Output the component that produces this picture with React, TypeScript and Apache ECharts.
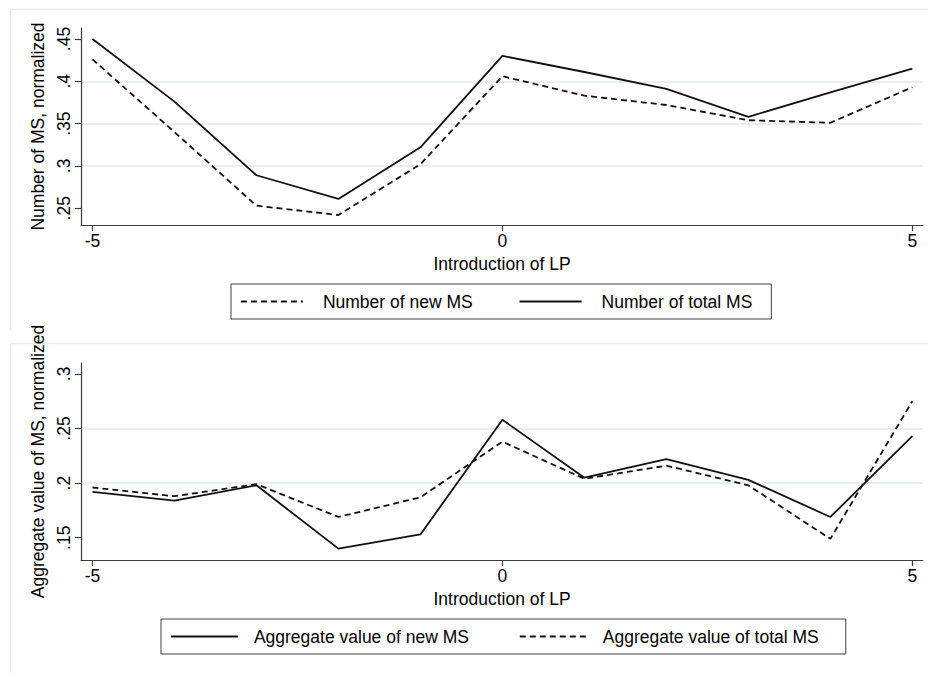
import React, { useEffect, useRef } from "react";
import * as echarts from "echarts";

const periods = [-5, -4, -3, -2, -1, 0, 1, 2, 3, 4, 5];
const numNewMS = [0.426, 0.34, 0.253, 0.242, 0.302, 0.406, 0.383, 0.372, 0.354, 0.351, 0.393];
const numTotalMS = [0.45, 0.376, 0.289, 0.261, 0.322, 0.43, 0.411, 0.391, 0.358, 0.387, 0.415];
const aggNewMS = [0.192, 0.184, 0.198, 0.14, 0.153, 0.258, 0.205, 0.222, 0.203, 0.169, 0.243];
const aggTotalMS = [0.196, 0.188, 0.199, 0.169, 0.187, 0.238, 0.204, 0.216, 0.198, 0.149, 0.275];
const xTicks = [-5, 0, 5];
const yTicksTop = [0.25, 0.3, 0.35, 0.4, 0.45];
const yTicksBottom = [0.15, 0.2, 0.25, 0.3];
const xTitle = "Introduction of LP";
const yTitleTop = "Number of MS, normalized";
const yTitleBottom = "Aggregate value of MS, normalized";
const labelsTop = ["Number of new MS", "Number of total MS"];
const labelsBottom = ["Aggregate value of new MS", "Aggregate value of total MS"];

const FONT = "'Liberation Sans', Arial, sans-serif";
const INK = "#111";
const AXIS = "#3c3c3c";
const GRID = "#e8eff2";
const FS = 17.5;

const fmtY = (v: number) => String(+v.toFixed(2)).replace(/^0/, "").replace(/^-0/, "-");

function xAxisCfg(gridIndex: number) {
  return {
    type: "value",
    gridIndex,
    min: -5.14,
    max: 5.13,
    name: xTitle,
    nameLocation: "middle",
    nameGap: 30,
    nameTextStyle: { color: "#000", fontFamily: FONT, fontSize: FS },
    axisLine: { show: true, onZero: false, lineStyle: { color: AXIS, width: 1.2 } },
    axisTick: { show: true, customValues: xTicks, length: 6, lineStyle: { color: AXIS, width: 1.2 } },
    axisLabel: { customValues: xTicks, color: "#000", fontFamily: FONT, fontSize: FS, margin: 7, formatter: (v: number) => String(v) },
    splitLine: { show: false },
  };
}

function yAxisCfg(gridIndex: number, min: number, max: number, ticks: number[], name: string) {
  return {
    type: "value",
    gridIndex,
    min,
    max,
    minInterval: 0.05,
    maxInterval: 0.05,
    splitNumber: 4,
    name,
    nameLocation: "middle",
    nameRotate: 90,
    nameGap: 31,
    nameTextStyle: { color: "#000", fontFamily: FONT, fontSize: FS },
    axisLine: { show: true, onZero: false, lineStyle: { color: AXIS, width: 1.2 } },
    axisTick: { show: true, customValues: ticks, length: 6, lineStyle: { color: AXIS, width: 1.2 } },
    axisLabel: { customValues: ticks, rotate: 90, color: "#000", fontFamily: FONT, fontSize: FS, margin: 8, formatter: fmtY },
    splitLine: { show: true, showMinLine: false, showMaxLine: false, lineStyle: { color: GRID, width: 2 } },
  };
}

function lineSeries(name: string, values: number[], idx: number, dashed: boolean) {
  return {
    type: "line",
    name,
    xAxisIndex: idx,
    yAxisIndex: idx,
    data: periods.map((p, i) => [p, values[i]]),
    symbol: "none",
    showSymbol: false,
    lineStyle: { color: INK, width: 1.8, type: dashed ? [6, 4] : "solid" },
    itemStyle: { color: INK },
    z: 3,
  };
}

function legendCfg(data: string[], left: number, top: number, padding: number[], itemWidth: number, itemGap: number, textPad: number) {
  return {
    data,
    left,
    top,
    orient: "horizontal",
    padding,
    itemWidth,
    itemHeight: 14,
    itemGap,
    borderColor: "#404040",
    borderWidth: 1,
    borderRadius: 0,
    backgroundColor: "#fff",
    selectedMode: false,
    itemStyle: { color: "rgba(0,0,0,0)", borderColor: "rgba(0,0,0,0)", borderWidth: 0 },
    lineStyle: { color: INK, width: 1.8 },
    textStyle: { color: "#000", fontFamily: FONT, fontSize: FS, lineHeight: 21, padding: [0, 0, 0, textPad] },
  };
}

export default function App() {
  const ref = useRef<HTMLDivElement>(null);
  useEffect(() => {
    if (!ref.current) return;
    const chart = echarts.init(ref.current, null, { renderer: "svg" });
    chart.setOption({
      animation: false,
      backgroundColor: "#fff",
      textStyle: { fontFamily: FONT },
      grid: [
        { left: 81, top: 28, width: 842, height: 197 },
        { left: 81, top: 363, width: 842, height: 197 },
      ],
      xAxis: [xAxisCfg(0), xAxisCfg(1)],
      yAxis: [
        yAxisCfg(0, 0.2302, 0.463, yTicksTop, yTitleTop),
        yAxisCfg(1, 0.1296, 0.31, yTicksBottom, yTitleBottom),
      ],
      legend: [
        legendCfg(labelsTop, 231, 284, [7, 19, 7, 9], 62, 46, 15),
        legendCfg(labelsBottom, 161, 619, [7, 27, 7, 9], 67, 50, 11),
      ],
      graphic: [
        { type: "line", shape: { x1: 10, y1: 9.5, x2: 928, y2: 9.5 }, style: { stroke: "#e3eaee", lineWidth: 1.5 }, silent: true },
        { type: "line", shape: { x1: 10.5, y1: 9, x2: 10.5, y2: 330 }, style: { stroke: "#e3eaee", lineWidth: 1.5 }, silent: true },
        { type: "line", shape: { x1: 10, y1: 343.5, x2: 928, y2: 343.5 }, style: { stroke: "#e3eaee", lineWidth: 1.5 }, silent: true },
        { type: "line", shape: { x1: 10.5, y1: 343, x2: 10.5, y2: 673 }, style: { stroke: "#e3eaee", lineWidth: 1.5 }, silent: true },
      ],
      series: [
        lineSeries(labelsTop[0], numNewMS, 0, true),
        lineSeries(labelsTop[1], numTotalMS, 0, false),
        lineSeries(labelsBottom[0], aggNewMS, 1, false),
        lineSeries(labelsBottom[1], aggTotalMS, 1, true),
      ],
    });
    return () => chart.dispose();
  }, []);
  return <div ref={ref} style={{ position: "fixed", left: 0, top: 0, width: 928, height: 673 }} />;
}
